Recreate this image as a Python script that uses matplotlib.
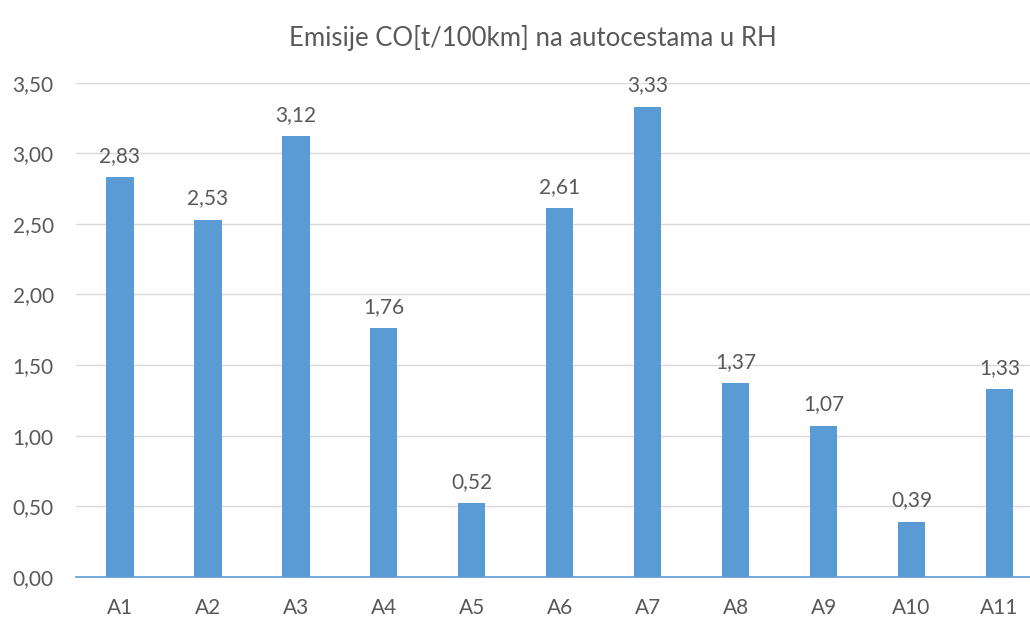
import matplotlib
matplotlib.use("Agg")
import matplotlib.pyplot as plt
from matplotlib.ticker import FuncFormatter, MultipleLocator

categories = ["A1", "A2", "A3", "A4", "A5", "A6", "A7", "A8", "A9", "A10", "A11"]
values = [2.83, 2.53, 3.12, 1.76, 0.52, 2.61, 3.33, 1.37, 1.07, 0.39, 1.33]
title = "Emisije CO[t/100km] na autocestama u RH"

plt.rcParams['font.family'] = ['Lato', 'DejaVu Sans']
text_color = "#595959"
bar_color = "#5B9BD5"

fig = plt.figure(figsize=(10.30, 6.17), dpi=100)
ax = fig.add_axes([76/1030, 1 - 576.8/617, (1043.5 - 76)/1030, (576.8 - 82.7)/617])

x = list(range(len(categories)))
bars = ax.bar(x, values, width=0.31, color=bar_color, zorder=3)

ax.set_xlim(-0.5, len(categories) - 0.5)
ax.set_ylim(0, 3.5)
ax.yaxis.set_major_locator(MultipleLocator(0.5))
ax.yaxis.set_major_formatter(FuncFormatter(lambda v, p: f"{v:.2f}".replace(".", ",")))
ax.set_xticks(x)
ax.set_xticklabels(categories)

ax.grid(axis='y', color="#D9D9D9", linewidth=1.0, zorder=0)
for s in ["top", "right", "left"]:
    ax.spines[s].set_visible(False)
ax.spines["bottom"].set_color(bar_color)
ax.spines["bottom"].set_linewidth(1.2)
ax.spines["bottom"].set_zorder(4)

ax.tick_params(axis='both', length=0, labelsize=15, labelcolor=text_color)
ax.tick_params(axis='x', pad=15)
ax.tick_params(axis='y', pad=16)

for xi, v in zip(x, values):
    ax.annotate(f"{v:.2f}".replace(".", ","), (xi, v), xytext=(0, 11),
                textcoords="offset points", ha="center", va="baseline",
                fontsize=15, color=text_color)

fig.text(533 / 1030, 1 - 38/617, title, ha="center", va="center",
         fontsize=18.5, color=text_color)

fig.savefig("out.png", dpi=100)
